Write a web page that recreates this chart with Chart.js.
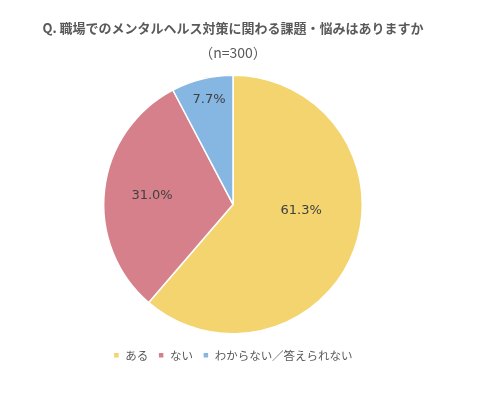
<!DOCTYPE html>
<html>
<head>
<meta charset="utf-8">
<script src="https://cdn.jsdelivr.net/npm/chart.js@4/dist/chart.umd.min.js"></script>
<style>
  html, body { margin: 0; padding: 0; background: #fff; }
  #wrap { width: 482px; height: 399px; }
</style>
</head>
<body>
<div id="wrap"><canvas id="chart" width="482" height="399"></canvas></div>
<script>
var labels = ["ある", "ない", "わからない／答えられない"];
var values = [61.3, 31.0, 7.7];
var colors = ["#f3d46f", "#d5808a", "#86b6e2"];

var FONT = "'Noto Sans CJK JP', 'DejaVu Sans', sans-serif";

// percentage text inside each slice, Excel-like placement
var sliceLabels = {
    id: "sliceLabels",
    afterDatasetsDraw: function (chart, args, opts) {
        var ctx = chart.ctx;
        var meta = chart.getDatasetMeta(0);
        ctx.save();
        ctx.font = "13px 'DejaVu Sans', sans-serif";
        ctx.fillStyle = "#404040";
        ctx.textAlign = "center";
        ctx.textBaseline = "middle";
        meta.data.forEach(function (arc, i) {
            var p = arc.getProps(["x", "y", "startAngle", "endAngle", "outerRadius"], true);
            var mid = (p.startAngle + p.endAngle) / 2 + opts.shift[i] * Math.PI / 180;
            var r = p.outerRadius * opts.radius[i];
            ctx.fillText(values[i].toFixed(1) + "%", p.x + Math.cos(mid) * r, p.y + Math.sin(mid) * r);
        });
        ctx.restore();
    }
};

new Chart(document.getElementById("chart"), {
    type: "pie",
    data: {
        labels: labels,
        datasets: [{
            data: values,
            backgroundColor: colors,
            borderColor: "#ffffff",
            borderWidth: 1.5
        }]
    },
    options: {
        responsive: false,
        animation: false,
        layout: { padding: { left: 0, right: 16, bottom: 28 } },
        plugins: {
            title: {
                display: true,
                text: "Q. 職場でのメンタルヘルス対策に関わる課題・悩みはありますか",
                color: "#595959",
                font: { family: FONT, size: 13, weight: "bold" },
                padding: { top: 20, bottom: 5 }
            },
            subtitle: {
                display: true,
                text: "（n=300）",
                color: "#595959",
                font: { family: FONT, size: 14 },
                padding: { top: 4, bottom: 13 }
            },
            legend: {
                position: "bottom",
                title: { display: true, text: "", font: { size: 5, lineHeight: 1 }, padding: 0 },
                labels: {
                    color: "#595959",
                    font: { family: FONT, size: 11.5 },
                    boxWidth: 6,
                    boxHeight: 6,
                    padding: 10
                }
            },
            tooltip: { enabled: false },
            sliceLabels: { radius: [0.53, 0.63, 0.83], shift: [-15, 0, 1] }
        }
    },
    plugins: [sliceLabels]
});
</script>
</body>
</html>
